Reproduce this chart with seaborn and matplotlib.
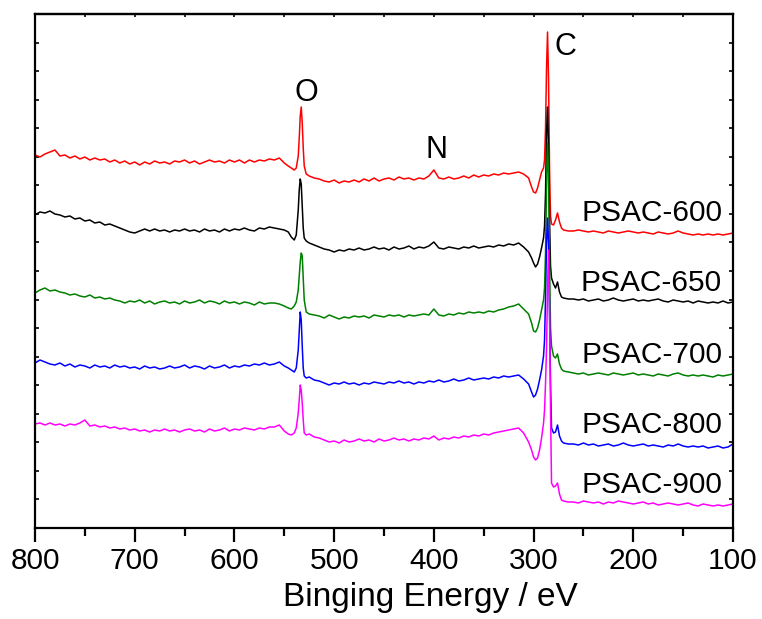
import numpy as np
import pandas as pd
import matplotlib
matplotlib.use("Agg")
import matplotlib.pyplot as plt
from matplotlib.ticker import MultipleLocator
import seaborn as sns

# ---- energy grid (eV) ----
energy = (list(range(800, 564, -5))
          + [560, 555, 550, 546, 543, 540, 538, 536, 535, 534, 533, 532, 531, 530, 528, 525, 520]
          + list(range(515, 304, -5))
          + [302, 300, 298, 296, 294, 292, 290, 289, 288, 287, 286, 285, 284, 283, 282, 280, 278, 276, 274, 272, 270, 265]
          + list(range(260, 99, -5)))

samples = ["PSAC-600", "PSAC-650", "PSAC-700", "PSAC-800", "PSAC-900"]
colors = ["#FF0000", "#000000", "#008000", "#0000FF", "#FF00FF"]

psac600 = ([373, 371, 374, 376, 378, 372, 373, 370, 372, 369,
            371, 368, 370, 368, 369, 366, 368, 365, 367, 364,
            366, 363, 366, 364, 367, 365, 366, 364, 367, 366,
            368, 365, 367, 364, 366, 368, 366, 367, 365, 368,
            366, 368, 365, 368, 366, 368, 367, 369]
           + [368, 370, 365, 362, 360, 358, 360, 372, 390, 412, 421, 405, 380, 362, 354, 352, 350]
           + [349, 347, 346, 348, 345, 347, 346, 348, 346, 349,
              347, 350, 347, 349, 350, 348, 351, 349, 350, 348,
              350, 349, 352, 358, 350, 349, 351, 349, 350, 352,
              350, 353, 351, 353, 352, 354, 353, 355, 354, 355,
              356, 354, 350]
           + [341, 336, 335, 340, 348, 356, 360, 368, 400, 460, 496, 450, 360, 312, 304, 303, 308, 315, 306, 300, 298, 297]
           + [297, 298, 297, 296, 297, 296, 295, 297, 296, 295,
              296, 297, 296, 295, 296, 295, 294, 296, 295, 294,
              295, 297, 295, 294, 293, 294, 293, 294, 293, 294,
              293, 294, 295])

psac650 = ([313, 316, 315, 317, 314, 313, 311, 312, 309, 310,
            307, 308, 305, 306, 303, 304, 302, 300, 298, 296,
            295, 297, 299, 297, 299, 297, 298, 296, 298, 297,
            299, 297, 298, 296, 299, 297, 298, 296, 299, 297,
            299, 298, 300, 298, 297, 300, 299, 301]
           + [300, 299, 298, 296, 291, 288, 293, 318, 338, 349, 344, 322, 300, 290, 287, 285, 283]
           + [281, 279, 278, 276, 278, 277, 279, 278, 280, 278,
              279, 281, 279, 280, 278, 281, 279, 280, 282, 279,
              281, 280, 282, 286, 280, 279, 281, 280, 279, 281,
              280, 282, 280, 281, 282, 281, 283, 282, 284, 283,
              285, 281, 276]
           + [270, 265, 261, 264, 271, 280, 290, 302, 335, 395, 421, 380, 310, 262, 250, 244, 240, 246, 236, 231, 230, 229]
           + [229, 228, 229, 227, 228, 229, 227, 228, 230, 228,
              227, 228, 229, 227, 228, 227, 228, 229, 227, 226,
              228, 227, 226, 227, 225, 227, 226, 225, 226, 225,
              227, 225, 226])

psac700 = ([235, 238, 240, 237, 238, 236, 235, 233, 234, 232,
            231, 233, 230, 231, 229, 230, 228, 227, 225, 227,
            226, 228, 225, 227, 224, 226, 227, 225, 226, 224,
            227, 225, 226, 228, 225, 227, 226, 224, 227, 225,
            226, 224, 226, 225, 223, 226, 224, 225]
           + [225, 224, 222, 220, 219, 222, 226, 238, 252, 266, 275, 272, 250, 228, 216, 214, 213]
           + [212, 210, 213, 211, 209, 211, 210, 212, 211, 212,
              210, 213, 212, 211, 213, 212, 213, 211, 213, 212,
              213, 214, 213, 219, 213, 212, 214, 213, 215, 214,
              216, 215, 216, 215, 217, 216, 218, 219, 221, 222,
              224, 219, 214]
           + [205, 197, 196, 200, 208, 218, 228, 240, 275, 340, 385, 355, 270, 200, 182, 172, 170, 174, 164, 159, 157, 156]
           + [155, 154, 155, 153, 154, 155, 154, 153, 155, 154,
              153, 154, 155, 153, 154, 153, 152, 154, 153, 152,
              154, 155, 153, 152, 153, 152, 153, 152, 151, 153,
              152, 153, 154])

psac800 = ([165, 168, 166, 164, 163, 165, 162, 164, 161, 163,
            162, 160, 163, 161, 162, 160, 163, 161, 162, 160,
            161, 159, 162, 160, 161, 159, 160, 162, 160, 161,
            163, 160, 162, 161, 159, 162, 160, 161, 163, 160,
            162, 161, 163, 162, 164, 163, 165, 163]
           + [164, 166, 162, 160, 158, 156, 160, 178, 198, 216, 208, 182, 160, 152, 150, 151, 148]
           + [147, 145, 143, 145, 144, 146, 144, 145, 143, 145,
              144, 146, 145, 144, 146, 145, 147, 145, 146, 144,
              146, 145, 147, 146, 148, 146, 147, 149, 147, 148,
              150, 148, 149, 150, 149, 151, 150, 152, 151, 152,
              153, 149, 144]
           + [136, 131, 133, 139, 148, 158, 172, 188, 230, 285, 310, 285, 215, 145, 100, 95, 96, 103, 92, 87, 85, 84]
           + [84, 83, 85, 83, 84, 82, 83, 84, 82, 83,
              85, 83, 82, 83, 84, 82, 83, 82, 81, 83,
              82, 84, 82, 81, 82, 81, 82, 80, 81, 82,
              80, 81, 84])

psac900 = ([104, 105, 103, 105, 103, 104, 102, 104, 103, 105,
            108, 102, 103, 101, 102, 100, 101, 99, 100, 98,
            99, 97, 98, 96, 98, 97, 99, 97, 98, 96,
            98, 99, 97, 98, 96, 99, 97, 98, 100, 97,
            99, 98, 100, 99, 98, 100, 99, 101]
           + [101, 103, 97, 94, 93, 95, 100, 115, 128, 143, 138, 125, 108, 95, 93, 94, 91]
           + [90, 88, 86, 87, 85, 88, 86, 87, 89, 87,
              88, 86, 89, 87, 88, 90, 88, 89, 87, 89,
              88, 90, 89, 92, 88, 90, 89, 91, 90, 92,
              91, 93, 92, 94, 93, 95, 96, 97, 98, 99,
              100, 95, 86]
           + [78, 71, 68, 70, 78, 90, 105, 118, 145, 180, 240, 278, 220, 120, 45, 41, 42, 45, 34, 28, 27, 26]
           + [26, 25, 27, 26, 25, 26, 24, 26, 25, 27,
              26, 25, 24, 25, 26, 24, 25, 23, 24, 25,
              24, 23, 24, 25, 23, 22, 24, 23, 22, 23,
              22, 23, 24])

series = [psac600, psac650, psac700, psac800, psac900]

peak_labels = ["O", "N", "C"]
peak_pos_x = [528, 397, 268]
peak_pos_y = [435, 378, 481]
label_y = [315, 245, 173, 103, 43]

# ---- build long-form table ----
frames = []
for name, vals in zip(samples, series):
    frames.append(pd.DataFrame({"energy": energy, "intensity": vals, "sample": name}))
df = pd.concat(frames, ignore_index=True)

sns.set_style("ticks")
plt.rcParams["font.family"] = ["Liberation Sans", "DejaVu Sans"]
plt.rcParams["text.color"] = "black"
plt.rcParams["axes.labelcolor"] = "black"
plt.rcParams["xtick.color"] = "black"
plt.rcParams["ytick.color"] = "black"

fig = plt.figure(figsize=(7.62, 6.19), dpi=100)
ax = fig.add_axes([35 / 762, 1 - 528 / 619, 698 / 762, 514 / 619])

sns.lineplot(data=df, x="energy", y="intensity", hue="sample", hue_order=samples,
             palette=colors, legend=False, linewidth=1.1, errorbar=None, ax=ax)

ax.set_xlim(800, 100)
ax.set_ylim(0, 514)
ax.xaxis.set_major_locator(MultipleLocator(100))
ax.xaxis.set_minor_locator(MultipleLocator(50))
ax.yaxis.set_major_locator(MultipleLocator(514 / 18))
ax.set_yticklabels([])
ax.set_ylabel("")

for s in ax.spines.values():
    s.set_linewidth(1.6)
    s.set_color("black")

ax.tick_params(axis="x", which="major", direction="out", length=10, width=1.6,
               labelsize=21.5, pad=4, colors="black")
ax.tick_params(axis="x", which="minor", direction="out", length=6, width=1.6)
ax.tick_params(axis="y", which="major", direction="in", length=3, width=1.2,
               left=True, right=True, labelleft=False)

top = ax.secondary_xaxis("top")
top.xaxis.set_major_locator(MultipleLocator(100))
top.xaxis.set_minor_locator(MultipleLocator(50))
top.tick_params(axis="x", which="both", direction="in", length=2.5, width=1.2, labeltop=False)
top.spines["top"].set_linewidth(1.6)

ax.set_xlabel("Binging Energy / eV", fontsize=24, color="black")
ax.xaxis.set_label_coords(0.566, -0.105)

for t, x, y in zip(peak_labels, peak_pos_x, peak_pos_y):
    ax.text(x, y, t, fontsize=22, ha="center", va="center", color="black")

for name, y in zip(samples, label_y):
    ax.text(111, y, name, fontsize=21.5, ha="right", va="center", color="black")

fig.savefig("out.png", dpi=100)
